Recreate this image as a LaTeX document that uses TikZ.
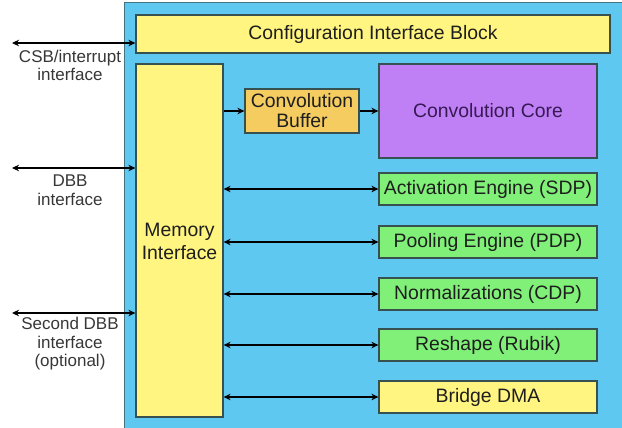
\documentclass[tikz,border=0pt]{standalone}
\usepackage{fontspec}
\setmainfont{Liberation Sans}
\usetikzlibrary{arrows.meta}
\definecolor{chipblue}{RGB}{95,200,240}
\definecolor{blkyellow}{RGB}{255,245,128}
\definecolor{blkorange}{RGB}{245,204,96}
\definecolor{blkpurple}{RGB}{192,128,245}
\definecolor{blkgreen}{RGB}{128,240,120}
\definecolor{edgegray}{RGB}{55,80,80}
\definecolor{txtdark}{RGB}{30,30,30}
\definecolor{txtpurple}{RGB}{55,25,85}
\definecolor{lbl}{RGB}{55,55,55}
\begin{document}
\begin{tikzpicture}[x=1pt,y=-1pt,
  blk/.style={draw=edgegray,line width=1.2pt,inner sep=0pt,text=txtdark,
    font=\fontsize{19.4}{22}\selectfont,align=center},
  bus/.style={line width=1.9pt,{Stealth[length=7pt,width=6.5pt]}-{Stealth[length=7pt,width=6.5pt]}},
  feed/.style={line width=1.9pt,-{Stealth[length=7pt,width=6.5pt]}},
  extlbl/.style={text=lbl,font=\fontsize{17}{18.5}\selectfont,align=center}]
\useasboundingbox (0,0) rectangle (622,428);
% chip outline
\fill[chipblue,draw=edgegray!70!chipblue,line width=1pt] (124,3) rectangle (623,430);
% blocks
\node[blk,fill=blkyellow,minimum width=474pt,minimum height=38pt] (cfg) at (373,34) {Configuration Interface Block};
\node[blk,fill=blkyellow,minimum width=87pt,minimum height=353pt] (mem) at (179.5,240.5) {};
\node[text=txtdark,font=\fontsize{19.4}{23}\selectfont,align=center] (memlbl) at (179.5,241) {Memory\\Interface};
\node[blk,fill=blkorange,minimum width=114pt,minimum height=44pt,font=\fontsize{19.4}{20}\selectfont] (cbuf) at (302,111) {Convolution\\Buffer};
\node[blk,fill=blkpurple,text=txtpurple,minimum width=218pt,minimum height=94pt] (core) at (488,111) {Convolution Core};
\node[blk,fill=blkgreen,minimum width=218pt,minimum height=32pt] (sdp) at (488,189) {Activation Engine (SDP)};
\node[blk,fill=blkgreen,minimum width=218pt,minimum height=32pt] (pdp) at (488,242) {Pooling Engine (PDP)};
\node[blk,fill=blkgreen,minimum width=218pt,minimum height=32pt] (cdp) at (488,294) {Normalizations (CDP)};
\node[blk,fill=blkgreen,minimum width=218pt,minimum height=32pt] (rubik) at (488,345) {Reshape (Rubik)};
\node[blk,fill=blkyellow,minimum width=218pt,minimum height=32pt] (bdma) at (488,397) {Bridge DMA};
% external ends
\coordinate (csb) at (12,43);
\coordinate (dbb) at (12,168);
\coordinate (dbb2) at (12,313);
% internal data paths
\draw[feed] (mem.east |- cbuf) -- (cbuf.west);
\draw[feed] (cbuf.east) -- (core.west);
\foreach \b in {sdp,pdp,cdp,rubik,bdma}
  \draw[bus] (mem.east |- \b) -- (\b.west);
% external interfaces
\draw[bus] (csb) -- (cfg.west |- csb);
\draw[bus] (dbb) -- (mem.west |- dbb);
\draw[bus] (dbb2) -- (mem.west |- dbb2);
\node[extlbl] (csblbl) at (70,65.5) {CSB/interrupt\\interface};
\node[extlbl] (dbblbl) at (70,190) {DBB\\interface};
\node[extlbl] (dbb2lbl) at (70,344) {Second DBB\\interface\\(optional)};
\end{tikzpicture}
\end{document}
